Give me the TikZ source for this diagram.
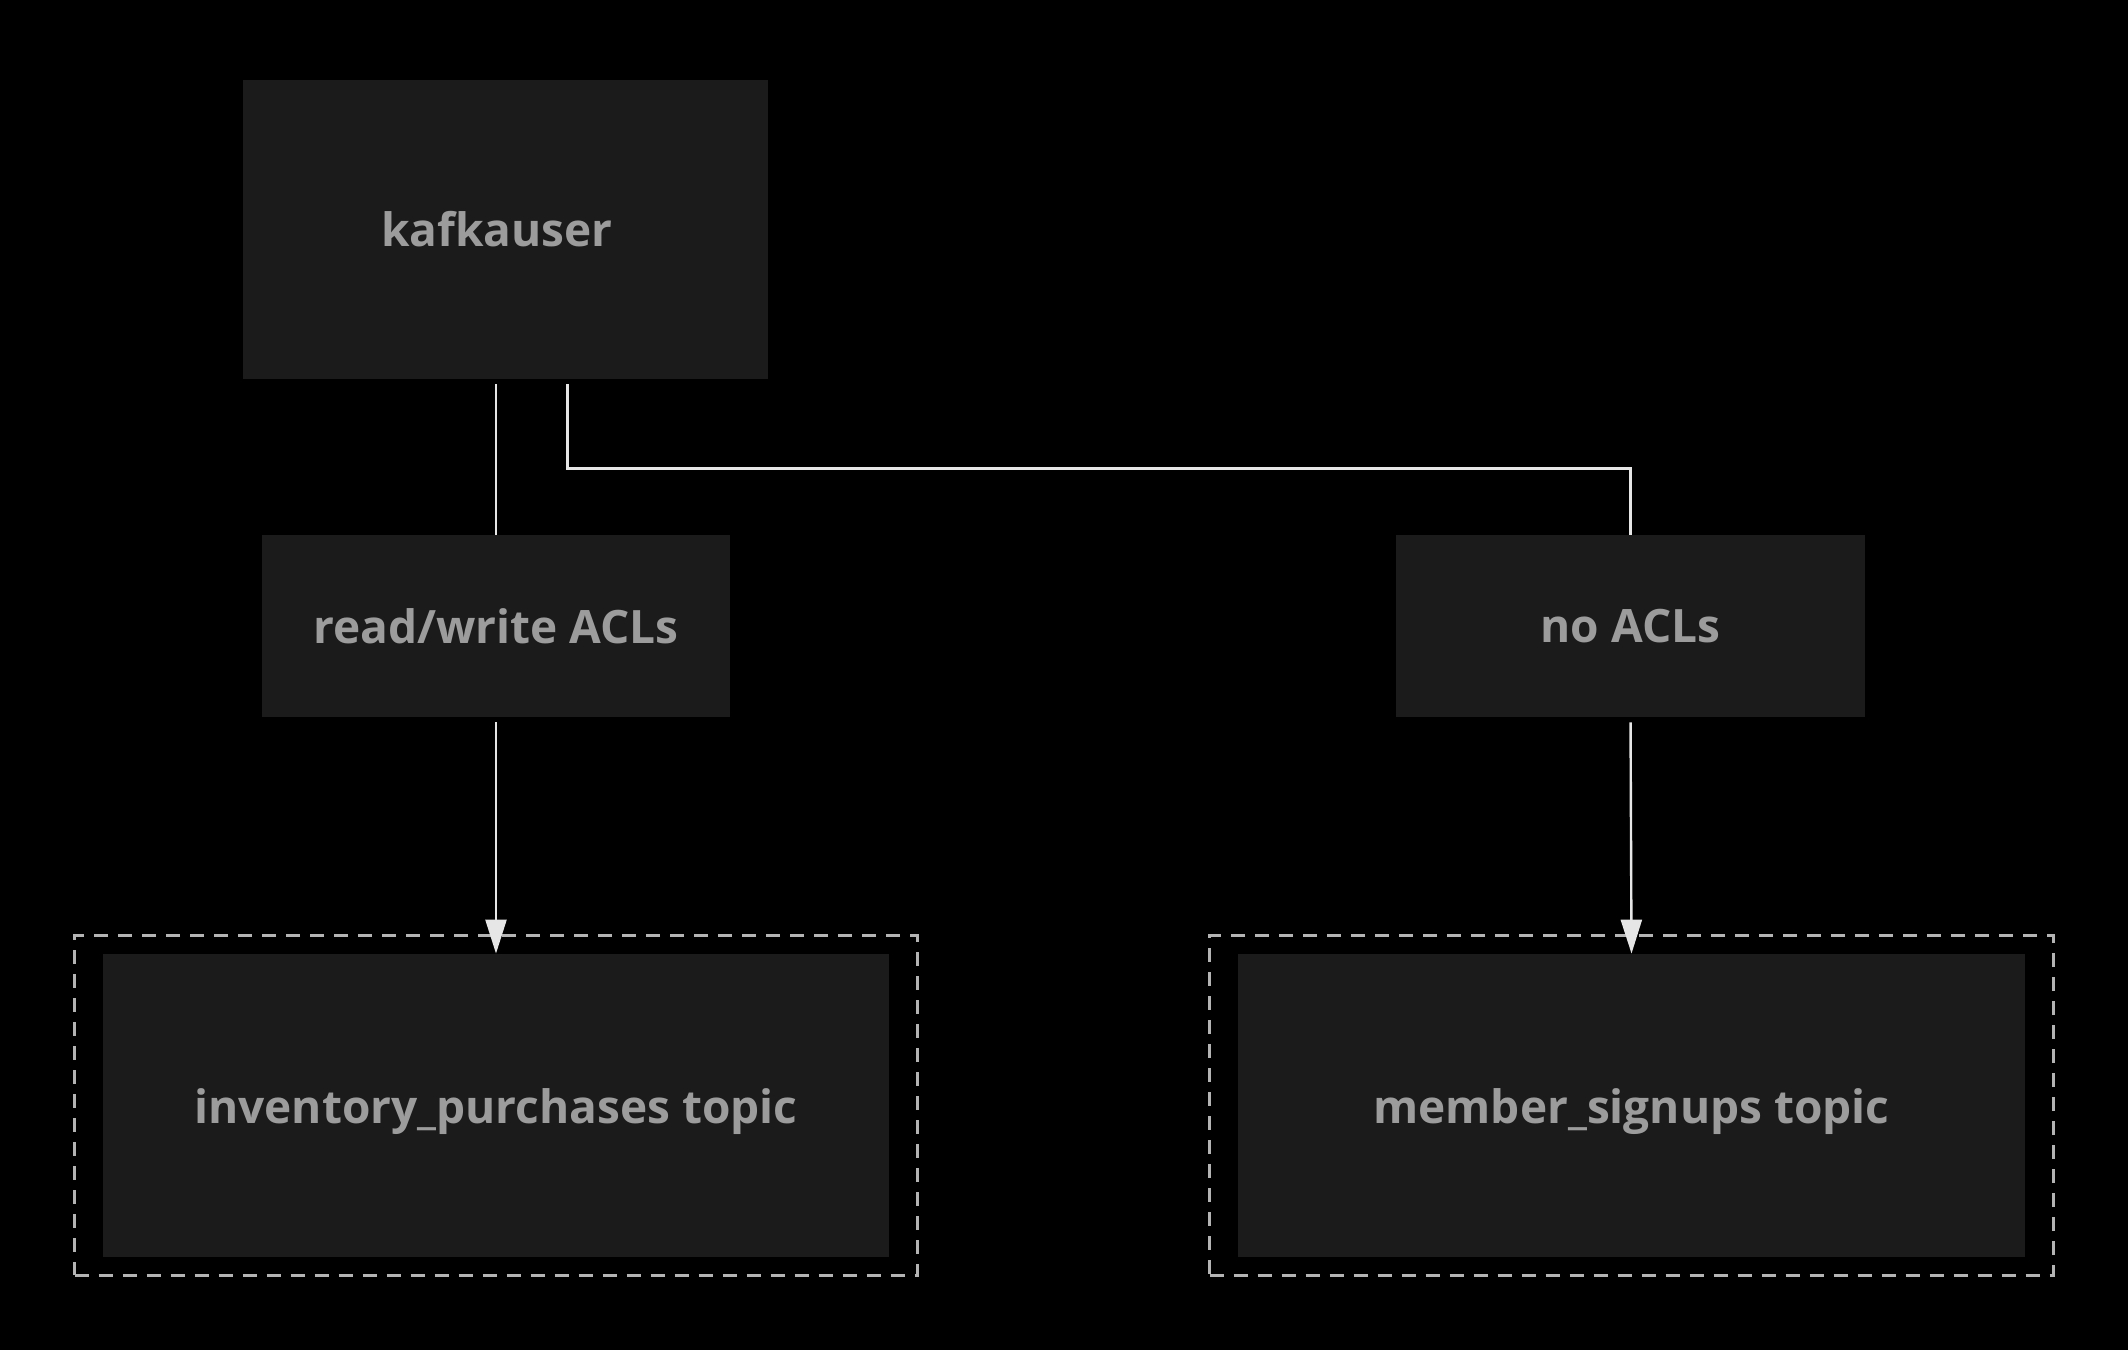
\documentclass[tikz,border=0pt]{standalone}
\usepackage{fontspec}
\setmainfont{Open Sans}
\usepackage{tikz}
\usetikzlibrary{arrows.meta,fit,positioning}
\definecolor{boxfill}{HTML}{1B1B1B}
\definecolor{boxtext}{HTML}{9C9C9C}
\definecolor{wire}{HTML}{E6E6E6}
\definecolor{frame}{HTML}{B4B4B4}

\begin{document}
\begin{tikzpicture}[
    x=0.5pt, y=-0.5pt,
    font=\bfseries\fontsize{23}{27}\selectfont,
    block/.style={fill=boxfill, text=boxtext, inner sep=0pt, align=center},
    caption/.style={text=boxtext, inner sep=0pt},
    topicframe/.style={draw=frame, dashed, dash pattern=on 7pt off 5pt,
                       line width=1.6pt, inner xsep=14pt, inner ysep=9pt},
    link/.style={wire, line width=1.2pt, shorten <=2.5pt},
    arrow/.style={link, -{Triangle[length=17pt, width=10.5pt]}}
]
\fill[black] (0,0) rectangle (2128,1350);

\node[block, minimum width=262.5pt, minimum height=149.5pt] (user) at (505.5,229.5) {};
\node[caption] (userlabel) at (497,229.5) {kafkauser};
\node[block, minimum width=234pt, minimum height=91pt] (rwacl) at (496,626) {read/write ACLs};
\node[block, minimum width=234.5pt, minimum height=91pt] (noacl) at (1630.5,626) {no ACLs};

\node[block, minimum width=393pt, minimum height=151.5pt] (invtopic) at (496,1105.5) {};
\node[caption] (invlabel) at (496,1112) {inventory\_purchases topic};
\node[block, minimum width=393.5pt, minimum height=151.5pt] (memtopic) at (1631.5,1105.5) {};
\node[caption] (memlabel) at (1631.5,1112) {member\_signups topic};
\node[topicframe, fit=(invtopic)] (invframe) {};
\node[topicframe, fit=(memtopic)] (memframe) {};

\draw[link] (user.south -| rwacl.north) -- (rwacl.north);
\draw[link, line width=1.5pt] ([xshift=31pt]user.south) -- ++(0,89) -| (noacl.north);
\draw[arrow] (rwacl.south) -- (invtopic.north);
\draw[arrow] (noacl.south) -- (memtopic.north);
\end{tikzpicture}
\end{document}
